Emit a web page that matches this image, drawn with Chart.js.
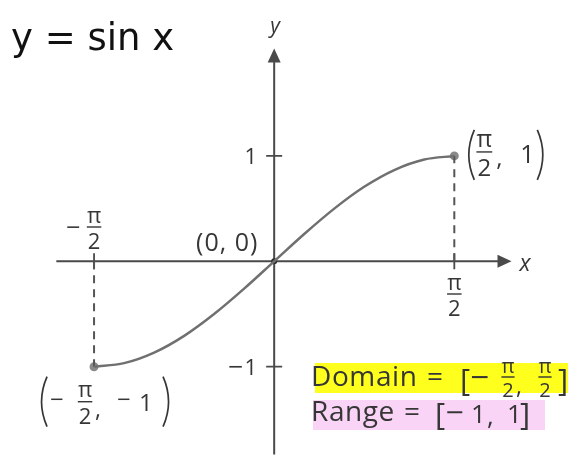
<!DOCTYPE html>
<html>
<head>
<meta charset="utf-8">
<script src="https://cdn.jsdelivr.net/npm/chart.js@4.4.0/dist/chart.umd.min.js"></script>
<style>
  body { margin: 0; background: #fff; }
  #wrap { width: 569px; height: 459px; }
</style>
</head>
<body>
<div id="wrap"><canvas id="sinChart"></canvas></div>
<script>
// y = sin x on [-pi/2, pi/2]
const xValues = [-1.571, -1.309, -1.047, -0.785, -0.524, -0.262, 0, 0.262, 0.524, 0.785, 1.047, 1.309, 1.571];
const yValues = [-1, -0.966, -0.866, -0.707, -0.5, -0.259, 0, 0.259, 0.5, 0.707, 0.866, 0.966, 1];
const markedX = [-1.571, 0, 1.571];
const markedY = [-1, 0, 1];
const yTicks = [1, -1];
const yTickLabels = ['1', '1'];
const xTicks = [-1.571, 1.571];
// part of the plane that is shown
const xRange = [-2.352, 2.532];
const yRange = [-1.833, 2.437];
const xAxisSpan = [-1.9, 2.07];
const yAxisTop = 2.02;

const INK = '#363636';
const FONT = '"Open Sans", "DejaVu Sans", sans-serif';

function frac(ctx, cx, barY, size) {
  ctx.font = `${size}px ${FONT}`;
  ctx.textAlign = 'center';
  ctx.textBaseline = 'alphabetic';
  ctx.fillText('\u03c0', cx, barY - 0.2 * size);
  ctx.fillText('2', cx, barY + 0.3 * size + 0.72 * size);
  ctx.fillRect(cx - size * 0.33, barY - 0.7, size * 0.66, 1.4);
}

// long minus sign, centred vertically on midY
function minus(ctx, x, midY, size) {
  ctx.font = `${size}px "DejaVu Sans", sans-serif`;
  ctx.textAlign = 'left';
  ctx.textBaseline = 'middle';
  ctx.fillText('\u2212', x - size * 0.1, midY);
}

function paren(ctx, x, top, bottom, left) {
  const d = left ? 1 : -1;
  ctx.beginPath();
  ctx.moveTo(x + 6 * d, top);
  ctx.quadraticCurveTo(x - 5 * d, (top + bottom) / 2, x + 6 * d, bottom);
  ctx.stroke();
}

function text(ctx, str, x, y, size, align, extra) {
  ctx.font = `${extra || ''} ${size}px ${FONT}`;
  ctx.textAlign = align || 'left';
  ctx.textBaseline = 'alphabetic';
  ctx.fillText(str, x, y);
}

const axesPlugin = {
  id: 'axes',
  beforeDatasetsDraw(chart) {
    const { ctx, scales: { x, y } } = chart;
    const ox = x.getPixelForValue(0), oy = y.getPixelForValue(0);
    const xl = x.getPixelForValue(xAxisSpan[0]), xr = x.getPixelForValue(xAxisSpan[1]);
    const yt = y.getPixelForValue(yAxisTop), yb = chart.chartArea.bottom;
    ctx.save();

    // highlight boxes behind the domain / range text
    ctx.fillStyle = '#ffff1e';
    ctx.fillRect(315, 363, 253, 30);
    ctx.fillStyle = '#f9d4f6';
    ctx.fillRect(313, 400, 232, 30);

    ctx.strokeStyle = '#4a4a4a';
    ctx.fillStyle = '#4a4a4a';
    ctx.lineWidth = 2;
    ctx.beginPath();
    ctx.moveTo(xl, oy); ctx.lineTo(xr - 12, oy);
    ctx.moveTo(ox, yb); ctx.lineTo(ox, yt + 12);
    ctx.stroke();
    // arrow heads
    ctx.beginPath();
    ctx.moveTo(xr, oy); ctx.lineTo(xr - 14, oy - 6.5); ctx.lineTo(xr - 14, oy + 6.5);
    ctx.closePath(); ctx.fill();
    ctx.beginPath();
    ctx.moveTo(ox, yt); ctx.lineTo(ox - 6.5, yt + 14); ctx.lineTo(ox + 6.5, yt + 14);
    ctx.closePath(); ctx.fill();
    // ticks
    ctx.lineWidth = 1.8;
    ctx.beginPath();
    yTicks.forEach(v => {
      const py = y.getPixelForValue(v);
      ctx.moveTo(ox - 8, py); ctx.lineTo(ox + 8, py);
    });
    xTicks.forEach(v => {
      const px = x.getPixelForValue(v);
      ctx.moveTo(px, oy - 8); ctx.lineTo(px, oy + 8);
    });
    ctx.stroke();
    ctx.restore();
  },
  afterDraw(chart) {
    const { ctx, scales: { x, y } } = chart;
    const ox = x.getPixelForValue(0), oy = y.getPixelForValue(0);
    ctx.save();

    // title
    ctx.fillStyle = '#111';
    ctx.font = '37px "DejaVu Sans", sans-serif';
    ctx.textAlign = 'left';
    ctx.fillText('y = sin x', 11, 50);

    ctx.fillStyle = INK;
    ctx.strokeStyle = INK;
    ctx.lineWidth = 1.7;

    // axis names
    text(ctx, 'y', ox + 1, 33, 21, 'center', 'italic');
    text(ctx, 'x', x.getPixelForValue(xAxisSpan[1]) + 8, 271, 23, 'left', 'italic');

    // y tick labels
    yTicks.forEach((v, i) => {
      const py = y.getPixelForValue(v);
      text(ctx, yTickLabels[i], ox - 17, py + 8, 22, 'right');
      if (v < 0) minus(ctx, ox - 45, py + 1, 20);
    });
    // x tick labels
    const xn = x.getPixelForValue(xTicks[0]), xp = x.getPixelForValue(xTicks[1]);
    minus(ctx, xn - 27, 228, 19);
    frac(ctx, xn, 227, 22);
    frac(ctx, xp, 294, 22);

    // (0, 0)
    ctx.letterSpacing = '1px';
    text(ctx, '(0, 0)', ox - 47, 251, 25, 'center');
    ctx.letterSpacing = '0px';

    // (pi/2, 1)
    const p1x = x.getPixelForValue(markedX[2]), p1y = y.getPixelForValue(markedY[2]);
    paren(ctx, p1x + 14, p1y - 26, p1y + 24, true);
    frac(ctx, p1x + 30, p1y - 4, 24);
    text(ctx, ',', p1x + 42, p1y + 10, 24);
    text(ctx, '1', p1x + 66, p1y + 7, 25);
    paren(ctx, p1x + 89, p1y - 26, p1y + 24, false);

    // (-pi/2, -1)
    const p2x = x.getPixelForValue(markedX[0]), p2y = y.getPixelForValue(markedY[0]);
    paren(ctx, p2x - 53, p2y + 10, p2y + 60, true);
    minus(ctx, p2x - 43, p2y + 34, 18);
    frac(ctx, p2x - 9, p2y + 35, 22);
    text(ctx, ',', p2x + 1, p2y + 50, 23);
    minus(ctx, p2x + 24, p2y + 34, 18);
    text(ctx, '1', p2x + 45, p2y + 44, 24);
    paren(ctx, p2x + 75, p2y + 10, p2y + 60, false);

    // domain
    ctx.letterSpacing = '0.6px';
    text(ctx, 'Domain', 311, 386, 28);
    ctx.letterSpacing = '0px';
    text(ctx, '=', 427, 386, 28);
    text(ctx, '[', 460, 391, 31);
    minus(ctx, 472, 378, 25);
    frac(ctx, 508, 377, 20);
    text(ctx, ',', 516, 394, 23);
    frac(ctx, 545, 377, 20);
    text(ctx, ']', 558, 391, 31);
    // range
    ctx.letterSpacing = '0.6px';
    text(ctx, 'Range', 311, 421, 28);
    ctx.letterSpacing = '0px';
    text(ctx, '=', 404, 421, 28);
    text(ctx, '[', 435, 425, 31);
    minus(ctx, 447, 414, 24);
    text(ctx, '1', 471, 423, 26);
    text(ctx, ',', 487, 425, 26);
    text(ctx, '1', 507, 423, 26);
    text(ctx, ']', 520, 425, 31);

    ctx.restore();
  }
};

const curve = xValues.map((v, i) => ({ x: v, y: yValues[i] }));
const marked = markedX.map((v, i) => ({ x: v, y: markedY[i] }));

new Chart(document.getElementById('sinChart'), {
  type: 'scatter',
  data: {
    datasets: [
      {
        data: curve,
        showLine: true,
        borderColor: '#707070',
        borderWidth: 2.5,
        cubicInterpolationMode: 'monotone',
        pointRadius: 0
      },
      {
        data: [{ x: markedX[0], y: 0 }, marked[0]],
        showLine: true,
        borderColor: '#555',
        borderWidth: 2,
        borderDash: [8, 6],
        pointRadius: 0
      },
      {
        data: [{ x: markedX[2], y: 0 }, marked[2]],
        showLine: true,
        borderColor: '#555',
        borderWidth: 2,
        borderDash: [8, 6],
        pointRadius: 0
      },
      {
        data: marked,
        pointRadius: [4.5, 3, 4.5],
        pointBackgroundColor: ['#8a8a8a', '#2e2e2e', '#8a8a8a'],
        pointBorderWidth: 0
      }
    ]
  },
  options: {
    responsive: true,
    maintainAspectRatio: false,
    animation: false,
    layout: { padding: 0 },
    scales: {
      x: { type: 'linear', min: xRange[0], max: xRange[1], display: false },
      y: { type: 'linear', min: yRange[0], max: yRange[1], display: false }
    },
    plugins: {
      legend: { display: false },
      tooltip: { enabled: false }
    }
  },
  plugins: [axesPlugin]
});
</script>
</body>
</html>
